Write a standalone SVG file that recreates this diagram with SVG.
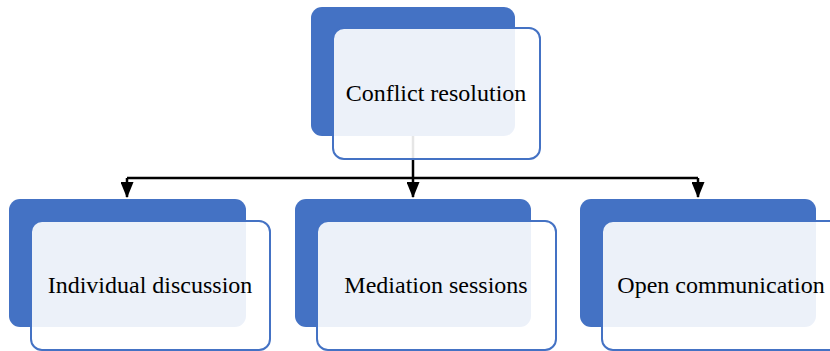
<svg xmlns="http://www.w3.org/2000/svg" width="830" height="351" viewBox="0 0 830 351">
  <style>
    .back { fill: #4472C4; }
    .front { fill: #FFFFFF; fill-opacity: 0.9; stroke: #4472C4; stroke-width: 2; }
    .label { font-family: "Liberation Serif", "Times New Roman", serif; font-size: 24px; fill: #000000; text-anchor: middle; }
    .wire { fill: none; stroke: #000000; stroke-width: 2.5; }
  </style>
  <defs>
    <marker id="arrow" viewBox="0 0 16 13" refX="15" refY="6.5" markerWidth="16" markerHeight="13" markerUnits="userSpaceOnUse" orient="auto">
      <path d="M0,0 L16,6.5 L0,13 Z" fill="#000000"/>
    </marker>
  </defs>

  <rect width="830" height="351" fill="#FFFFFF"/>

  <!-- connectors -->
  <g id="connectors">
    <path class="wire" d="M413,136 V178"/>
    <path class="wire" d="M127,178 H698"/>
    <path class="wire" d="M127,178 V197" marker-end="url(#arrow)"/>
    <path class="wire" d="M413,178 V197" marker-end="url(#arrow)"/>
    <path class="wire" d="M698,178 V197" marker-end="url(#arrow)"/>
  </g>

  <g id="conflict-resolution">
    <rect class="back" x="311" y="7" width="204" height="129" rx="11"/>
    <rect class="front" x="333" y="28" width="207" height="131" rx="11"/>
    <text class="label" x="436" y="101">Conflict resolution</text>
  </g>

  <g id="individual-discussion">
    <rect class="back" x="9" y="199" width="237" height="128" rx="11"/>
    <rect class="front" x="31" y="221" width="239" height="129" rx="11"/>
    <text class="label" x="150" y="293">Individual discussion</text>
  </g>

  <g id="mediation-sessions">
    <rect class="back" x="295" y="199" width="236" height="128" rx="11"/>
    <rect class="front" x="317" y="221" width="239" height="129" rx="11"/>
    <text class="label" x="436" y="293">Mediation sessions</text>
  </g>

  <g id="open-communication">
    <rect class="back" x="580" y="199" width="236" height="128" rx="11"/>
    <rect class="front" x="602" y="221" width="239" height="129" rx="11"/>
    <text class="label" x="721" y="293">Open communication</text>
  </g>
</svg>
